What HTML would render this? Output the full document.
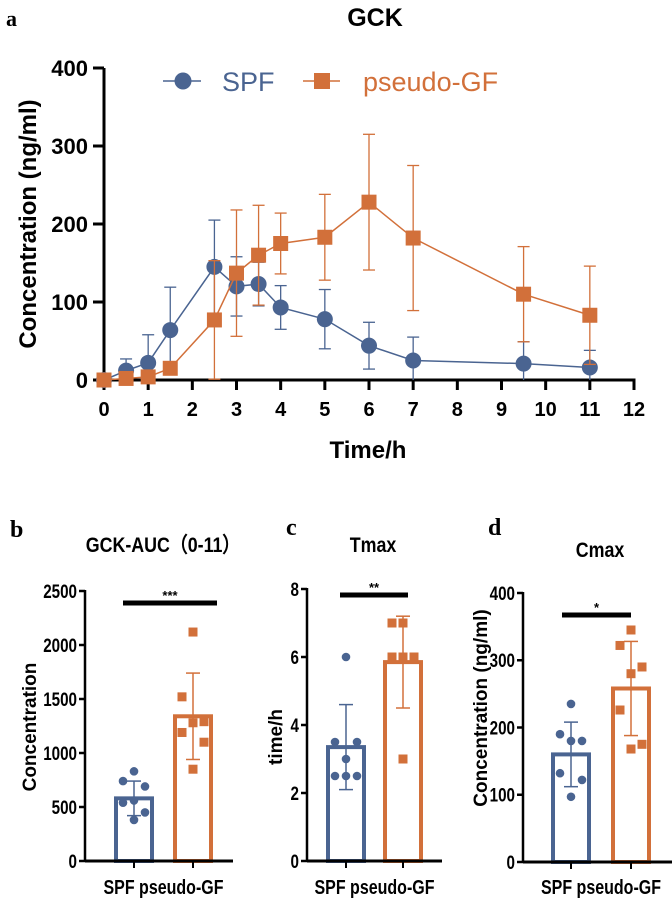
<!DOCTYPE html>
<html><head><meta charset="utf-8"><style>
body{margin:0;background:#fff;width:672px;height:900px;overflow:hidden}
svg{display:block;font-family:"Liberation Sans",Arial,sans-serif}
</style></head><body>
<svg id="s" width="672" height="900" viewBox="0 0 672 900">
<text x="6" y="26" font-family="Liberation Serif,serif" font-weight="bold" font-size="22">a</text>
<text x="375" y="26" text-anchor="middle" font-weight="bold" font-size="25">GCK</text>
<text transform="translate(36,224) rotate(-90)" text-anchor="middle" font-weight="bold" font-size="24">Concentration (ng/ml)</text>
<text x="368" y="458" text-anchor="middle" font-weight="bold" font-size="24">Time/h</text>
<g>
<line x1="163" y1="81" x2="201" y2="81" stroke="#4a6491" stroke-width="1.5"/>
<circle cx="183" cy="81" r="8.5" fill="#4a6491"/>
<text x="222" y="91" font-size="27" fill="#4a6491">SPF</text>
<line x1="303" y1="81" x2="340" y2="81" stroke="#d2703a" stroke-width="1.5"/>
<rect x="314" y="73" width="16" height="16" fill="#d2703a"/>
<text x="363" y="91" font-size="27" fill="#d2703a">pseudo-GF</text>
</g>
<g id="topchart"></g>
<text x="10" y="537" font-family="Liberation Serif,serif" font-weight="bold" font-size="24">b</text>
<text x="163" y="552" text-anchor="middle" font-weight="bold" font-size="21" transform="translate(163,0) scale(0.85,1) translate(-163,0)">GCK-AUC（0-11）</text>
<text x="286" y="535" font-family="Liberation Serif,serif" font-weight="bold" font-size="24">c</text>
<text x="373" y="552" text-anchor="middle" font-weight="bold" font-size="21" transform="translate(373,0) scale(0.85,1) translate(-373,0)">Tmax</text>
<text x="488" y="535" font-family="Liberation Serif,serif" font-weight="bold" font-size="24">d</text>
<text x="600" y="557" text-anchor="middle" font-weight="bold" font-size="21" transform="translate(600,0) scale(0.85,1) translate(-600,0)">Cmax</text>
<g id="bars"></g>
</svg>
<script>
const NS="http://www.w3.org/2000/svg";
const BLUE="#4a6491",ORANGE="#d2703a";
// top chart data
const times=[0,0.5,1,1.5,2.5,3,3.5,4,5,6,7,9.5,11];
const spfMean=[0,12,22,64,145,120,123,93,78,44,25,21,16];
const spfSD=[0,15,36,55,60,38,28,28,38,30,30,28,22];
const gfMean=[0,2,4,15,77,137,160,175,183,228,182,110,83];
const gfSD=[0,3,5,8,76,81,64,39,55,87,93,61,63];
const xTicks=[0,1,2,3,4,5,6,7,8,9,10,11,12];
const yTicks=[0,100,200,300,400];
// bar panel data
const aucSPF=[830,740,690,560,540,450,380];
const aucGF=[2120,1520,1290,1280,1190,1100,850];
const aucMean=[580,1340];const aucSD=[160,400];
const tmaxSPF=[6,3.5,3.5,3,2.5,2.5,2.5];
const tmaxGF=[7,7,6,6,6,6,3];
const tmaxMean=[3.35,5.85];const tmaxSD=[1.25,1.35];
const cmaxSPF=[235,190,180,180,132,122,97];
const cmaxGF=[345,322,290,280,226,175,168];
const cmaxMean=[160,258];const cmaxSD=[48,70];

function el(tag,attrs,parent){const e=document.createElementNS(NS,tag);for(const k in attrs)e.setAttribute(k,attrs[k]);parent.appendChild(e);return e;}
const topG=document.getElementById('topchart');
const X=t=>104+t*(634-104)/12, Y=v=>380-v*(380-68)/400;
let ax=el('line',{x1:104,y1:68,x2:104,y2:381.5,stroke:'#000','stroke-width':3},topG);


ax=el('line',{x1:102.5,y1:380,x2:635.5,y2:380,stroke:'#000','stroke-width':3},topG);


xTicks.forEach(t=>{el('line',{x1:X(t),y1:380,x2:X(t),y2:390,stroke:'#000','stroke-width':3},topG);
 const tx=el('text',{x:X(t),y:416,'text-anchor':'middle','font-weight':'bold','font-size':20},topG);tx.textContent=t;
 
 });
yTicks.forEach(v=>{el('line',{x1:93,y1:Y(v),x2:104,y2:Y(v),stroke:'#000','stroke-width':3},topG);
 const tx=el('text',{x:88,y:Y(v)+8,'text-anchor':'end','font-weight':'bold','font-size':22},topG);tx.textContent=v;
 
 });
function series(mean,sd,color,shape,name){
 const g=el('g',{},topG);
 
 
 el('polyline',{points:times.map((t,i)=>X(t)+','+Y(mean[i])).join(' '),fill:'none',stroke:color,'stroke-width':1.5},g);
 times.forEach((t,i)=>{
  const x=X(t),hi=Y(mean[i]+sd[i]),lo=Y(Math.max(0,mean[i]-sd[i]));
  el('line',{x1:x,y1:hi,x2:x,y2:lo,stroke:color,'stroke-width':1.3},g);
  el('line',{x1:x-6,y1:hi,x2:x+6,y2:hi,stroke:color,'stroke-width':1.3},g);
  if(mean[i]-sd[i]>0)el('line',{x1:x-6,y1:lo,x2:x+6,y2:lo,stroke:color,'stroke-width':1.3},g);
  let m;
  if(shape==='c')m=el('circle',{cx:x,cy:Y(mean[i]),r:8,fill:color},g);
  else m=el('rect',{x:x-7.5,y:Y(mean[i])-7.5,width:15,height:15,fill:color},g);
  
  
 });
}
series(spfMean,spfSD,BLUE,'c','spf');
series(gfMean,gfSD,ORANGE,'s','pseudo-gf');

const bars=document.getElementById('bars');
function panel(o){
 const g=el('g',{},bars);
 
 
 const Yb=v=>o.y0-v*(o.y0-o.yTop)/o.max;
 o.ticks.forEach(v=>{el('line',{x1:o.ax-6,y1:Yb(v),x2:o.ax,y2:Yb(v),stroke:'#000','stroke-width':2.5},g);
  const tx=el('text',{x:o.ax-8,y:Yb(v)+7,'text-anchor':'end','font-weight':'bold','font-size':19,transform:`translate(${o.ax-8},0) scale(0.8,1) translate(${-(o.ax-8)},0)`},g);tx.textContent=v;
  
  });
 const cols=[BLUE,ORANGE],pts=[o.spf,o.gf],labels=['SPF','pseudo-GF'];
 o.centers.forEach((c,i)=>{
  const b=el('rect',{x:c-o.w/2+2,y:Yb(o.mean[i]),width:o.w-4,height:o.y0-Yb(o.mean[i]),fill:'none',stroke:cols[i],'stroke-width':4},g);
  
  
  const hi=Yb(o.mean[i]+o.sd[i]),lo=Yb(o.mean[i]-o.sd[i]);
  el('line',{x1:c,y1:hi,x2:c,y2:lo,stroke:cols[i],'stroke-width':1.5},g);
  el('line',{x1:c-7,y1:hi,x2:c+7,y2:hi,stroke:cols[i],'stroke-width':1.5},g);
  el('line',{x1:c-7,y1:lo,x2:c+7,y2:lo,stroke:cols[i],'stroke-width':1.5},g);
  const offs=[0,-11,11,0,-11,11,0];
  pts[i].forEach((v,j)=>{
   let m;const x=c+offs[j%7];
   if(i===0)m=el('circle',{cx:x,cy:Yb(v),r:4.3,fill:BLUE},g);
   else m=el('rect',{x:x-4.5,y:Yb(v)-4.5,width:9,height:9,fill:ORANGE},g);
   
   
  });
  el('line',{x1:c,y1:o.y0,x2:c,y2:o.y0+7,stroke:'#000','stroke-width':2},g);
 });
 el('line',{x1:o.ax,y1:o.yTop-1,x2:o.ax,y2:o.y0+1,stroke:'#000','stroke-width':2.5},g);
 el('line',{x1:o.ax,y1:o.y0,x2:o.axEnd,y2:o.y0,stroke:'#000','stroke-width':3},g);
 const sb=el('line',{x1:o.sig[0],y1:o.sig[2],x2:o.sig[1],y2:o.sig[2],stroke:'#000','stroke-width':5},g);
 
 
 const st=el('text',{x:(o.sig[0]+o.sig[1])/2,y:o.sig[2]-3,'text-anchor':'middle','font-size':13,'font-weight':'bold'},g);st.textContent=o.stars;
 
 
 const cx=(o.centers[0]+o.centers[1])/2;
 const xl=el('text',{x:cx,y:894,'text-anchor':'middle','font-weight':'bold','font-size':20,transform:`translate(${cx},0) scale(0.8,1) translate(${-cx},0)`},g);xl.textContent='SPF pseudo-GF';
 
 
 const yt=el('text',{transform:`translate(${o.ytx},${o.yty}) rotate(-90)`,'text-anchor':'middle','font-weight':'bold','font-size':o.yfs},g);yt.textContent=o.ytitle;
 
 
}
panel({name:'auc',ax:85,axEnd:233,y0:861,yTop:591,max:2500,ticks:[0,500,1000,1500,2000,2500],centers:[134,193],w:40,mean:aucMean,sd:aucSD,spf:aucSPF,gf:aucGF,sig:[123,217,603],stars:'***',ytitle:'Concentration',ytx:36,yty:727,yfs:19});
panel({name:'tmax',ax:307,axEnd:442,y0:861,yTop:589,max:8,ticks:[0,2,4,6,8],centers:[346,403],w:40,mean:tmaxMean,sd:tmaxSD,spf:tmaxSPF,gf:tmaxGF,sig:[340,408,595],stars:'**',ytitle:'time/h',ytx:282,yty:737,yfs:19});
panel({name:'cmax',ax:523,axEnd:672,y0:862,yTop:593,max:400,ticks:[0,100,200,300,400],centers:[571,631],w:40,mean:cmaxMean,sd:cmaxSD,spf:cmaxSPF,gf:cmaxGF,sig:[562,631,615],stars:'*',ytitle:'Concentration (ng/ml)',ytx:487,yty:708,yfs:19});
</script>
</body></html>
